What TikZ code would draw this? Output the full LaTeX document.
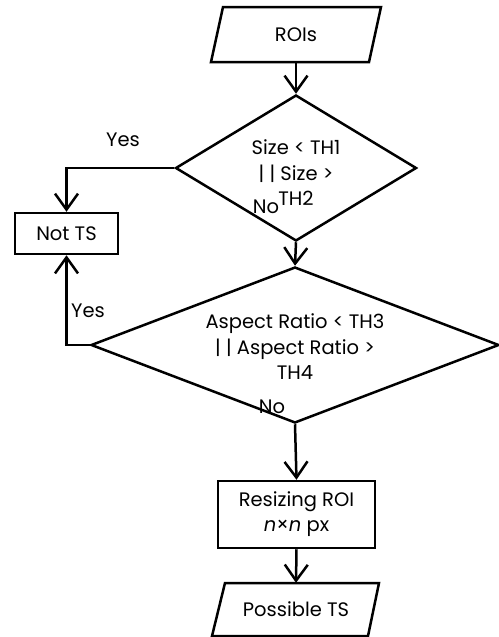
\documentclass[tikz,border=0pt]{standalone}
\usepackage{fontspec}
\setmainfont{Poppins}
\usetikzlibrary{arrows.meta,shapes.geometric,calc}
\begin{document}
\begin{tikzpicture}[x=1pt,y=-1pt,
  lw/.style={line width=2.5pt},
  arr/.style={lw,-{Straight Barb[length=16pt,width=23pt,line width=2.5pt]}},
  box/.style={draw,lw,inner sep=0pt,align=center},
  ghost/.style={inner sep=0pt,align=center},
  dia/.style={diamond,draw,lw,inner sep=0pt,minimum width=#1},
  txt/.style={font=\fontsize{19.5}{25.5}\selectfont},
  lbl/.style={font=\fontsize{19.5}{22}\selectfont,inner sep=0pt}
]
\useasboundingbox (0,0) rectangle (498,637);
\tikzset{every node/.append style={txt}}
% ROIs
\node[ghost,minimum width=158pt,minimum height=55pt] (rois) at (296,34.5) {ROIs};
\draw[lw] ($(rois)+(-73,-27.5)$) -- ($(rois)+(85,-27.5)$) -- ($(rois)+(73,27.5)$) -- ($(rois)+(-85,27.5)$) -- cycle;
% diamond 1
\node[dia=241pt,minimum height=146pt] (d1) at (296,168) {};
\node[ghost] (d1t) at (296,173) {Size < TH1\\| | Size >\\TH2};
% Not TS
\node[box,minimum width=103pt,minimum height=41pt] (nots) at (66.5,233.5) {Not TS};
% diamond 2
\node[dia=408pt,minimum height=156pt] (d2) at (295,345) {};
\node[ghost] (d2t) at (295,347) {Aspect Ratio < TH3\\| | Aspect Ratio >\\TH4};
% Resizing
\node[box,minimum width=157pt,minimum height=67pt,font=\fontsize{19.5}{25}\selectfont] (res) at (296.5,514.5) {Resizing ROI\\\textit{n}×\textit{n} px};
% Possible TS
\node[ghost,minimum width=156pt,minimum height=53pt] (poss) at (296,609.5) {Possible TS};
\draw[lw] ($(poss)+(-71,-26.5)$) -- ($(poss)+(83,-26.5)$) -- ($(poss)+(72,26.5)$) -- ($(poss)+(-84,26.5)$) -- cycle;
% connectors
\draw[arr] (rois.south) -- (d1.north);
\draw[arr] (d1.south) -- (d2.north);
\draw[arr] (d2.south) -- (res.north);
\draw[arr] (res.south) -- (poss.north);
\draw[arr] (d1.west) -| (nots.north);
\draw[arr] (d2.west) -| (nots.south);
% labels
\node[lbl] (y1) at (123,140) {Yes};
\node[lbl] (n1) at (266,207) {No};
\node[lbl] (y2) at (88,311) {Yes};
\node[lbl] (n2) at (272,407) {No};
\end{tikzpicture}
\end{document}
